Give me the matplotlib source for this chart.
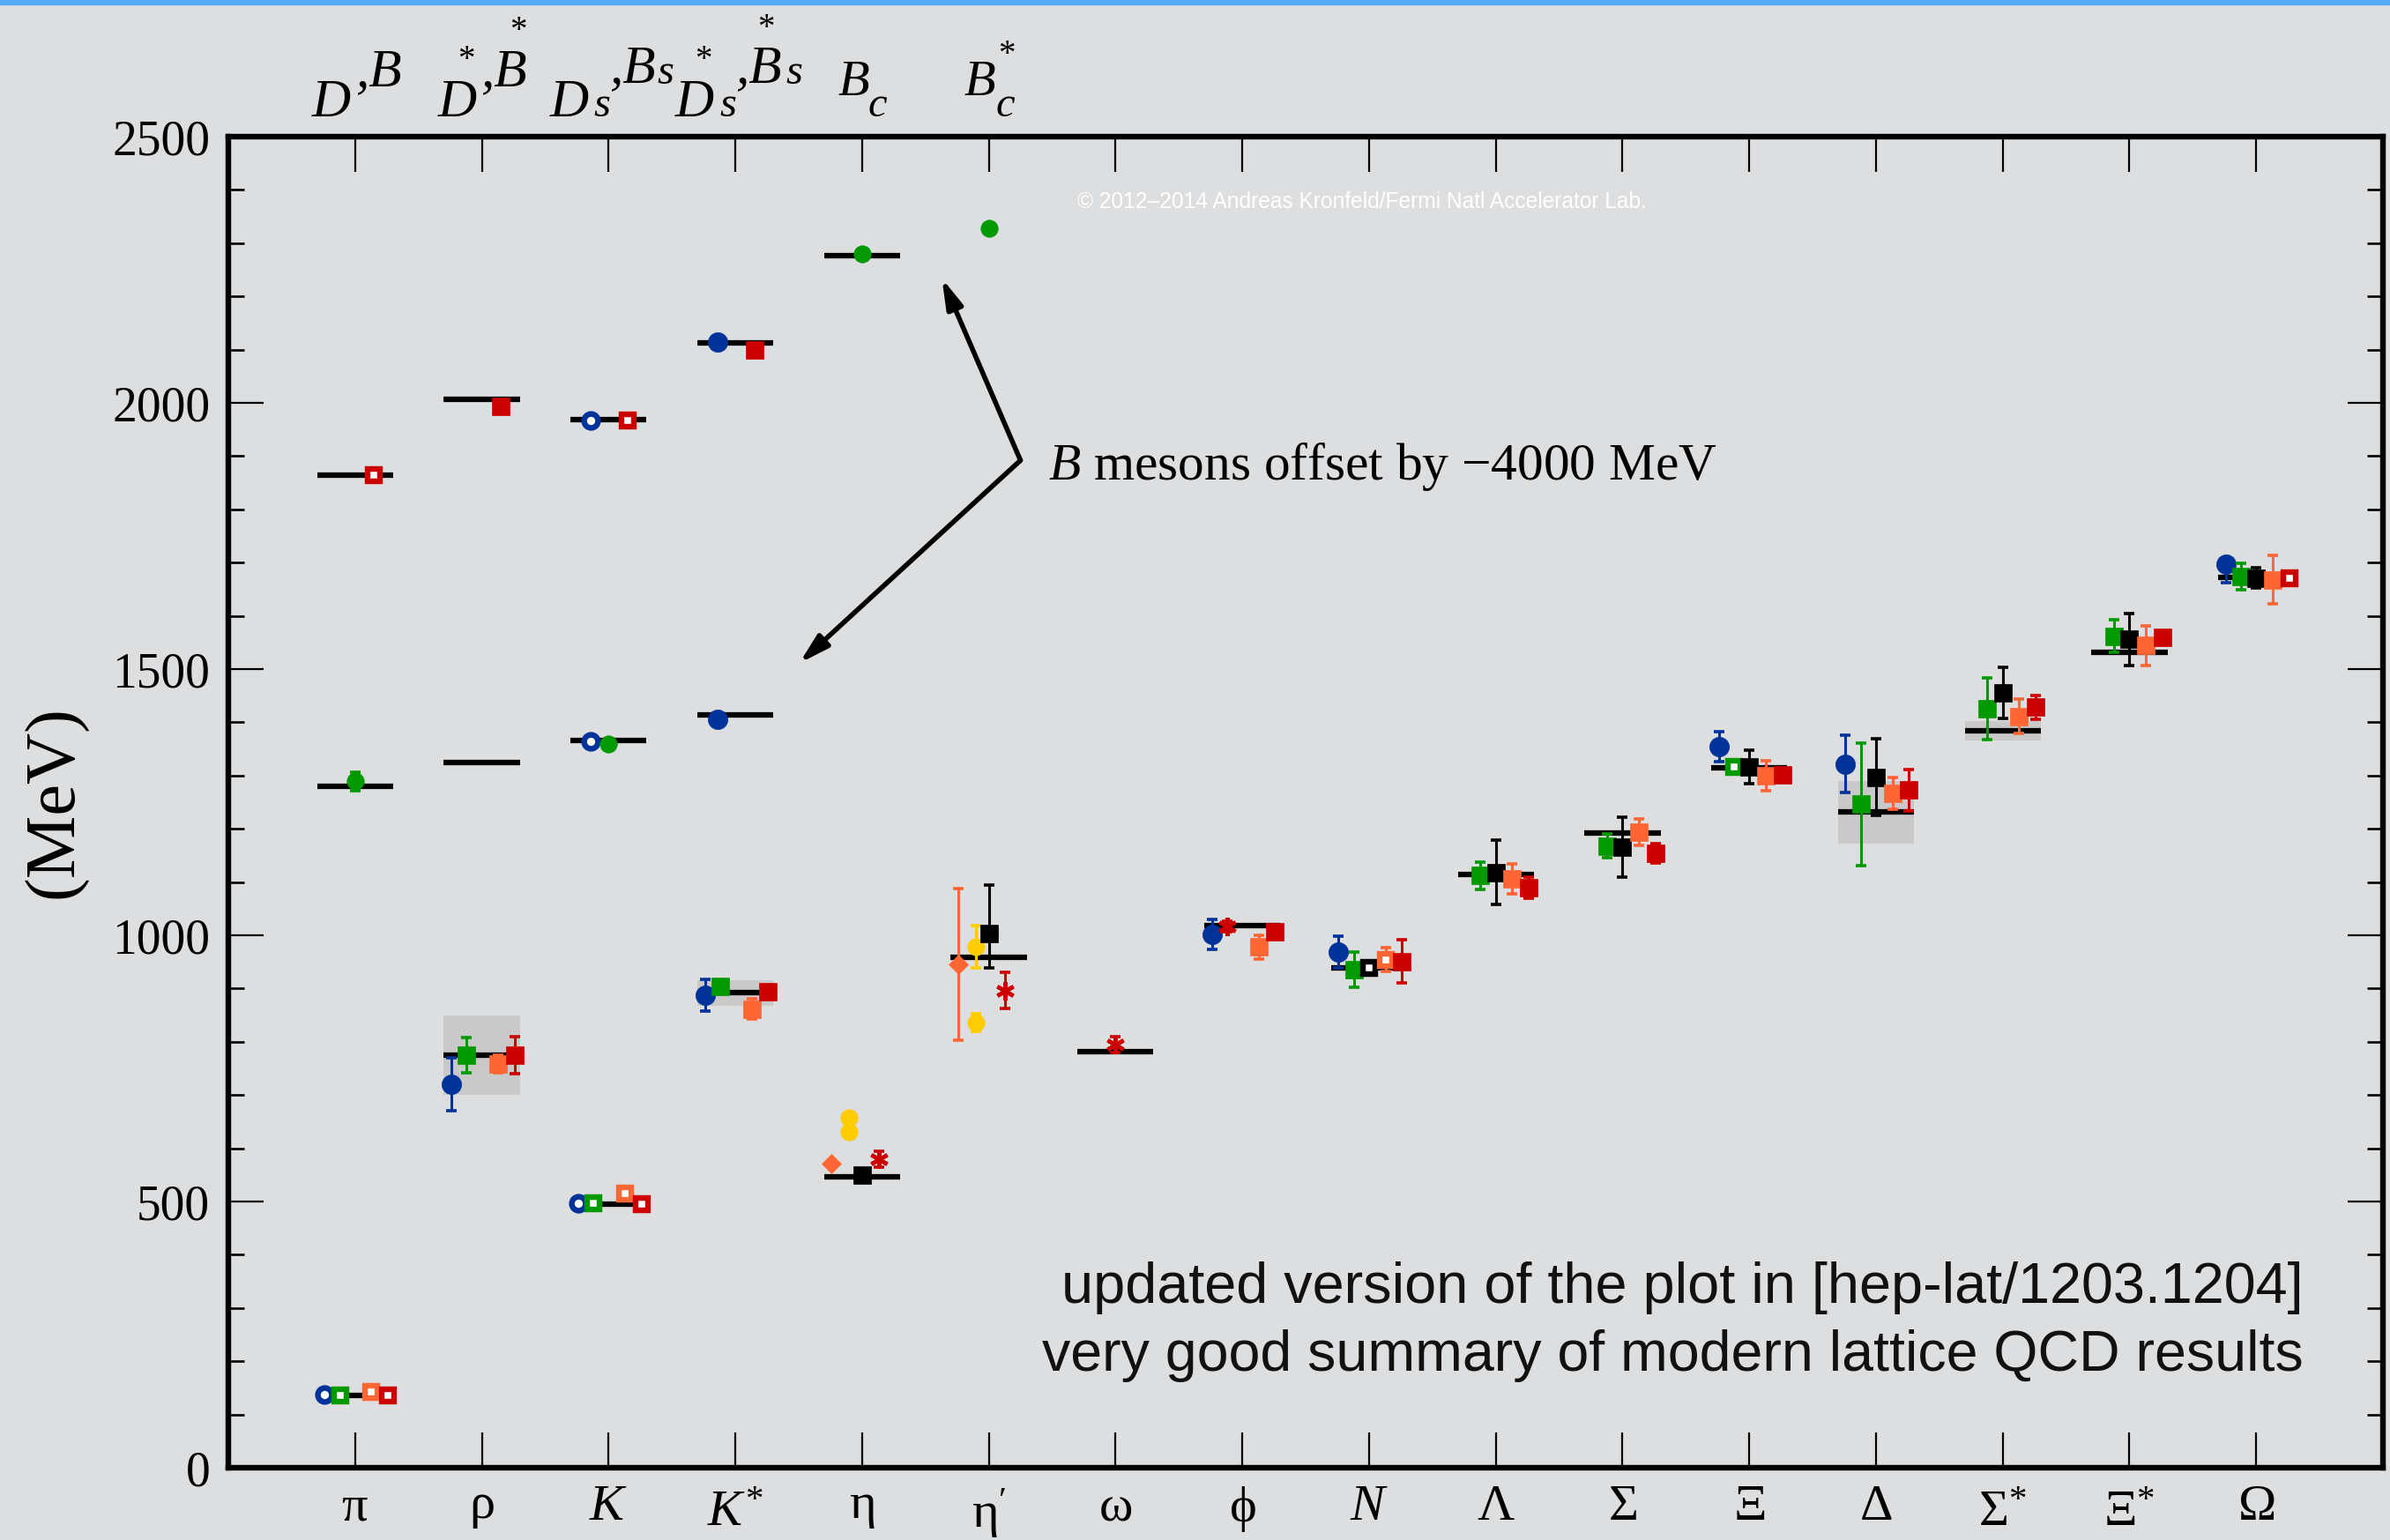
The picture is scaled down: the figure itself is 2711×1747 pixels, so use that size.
import numpy as np
import matplotlib
matplotlib.use("Agg")
import matplotlib.pyplot as plt
from matplotlib.patches import Rectangle
from matplotlib.ticker import MultipleLocator
from matplotlib.transforms import blended_transform_factory, ScaledTranslation

plt.rcParams["font.family"] = ["Liberation Serif", "DejaVu Serif"]
plt.rcParams["mathtext.fontset"] = "custom"
plt.rcParams["mathtext.rm"] = "Liberation Serif"
plt.rcParams["mathtext.it"] = "Liberation Serif:italic"
plt.rcParams["mathtext.bf"] = "Liberation Serif:bold"
plt.rcParams["mathtext.fallback"] = "stix"

W, H = 2711, 1747
BG = "#dddee0"
BLUE = "#003399"
GREEN = "#009900"
ORANGE = "#ff6633"
RED = "#cc0000"
YELLOW = "#ffcc00"
BAND = "#c9c9c9"
SANS = ["Liberation Sans Narrow", "Liberation Sans", "DejaVu Sans"]

# ---- data -------------------------------------------------------------
hadrons = [r"$\mathrm{\pi}$", r"$\mathrm{\rho}$", r"$K$", r"$K^{*}$", r"$\mathrm{\eta}$",
           r"$\mathrm{\eta}^{\prime}$", r"$\mathrm{\omega}$", r"$\mathrm{\phi}$", r"$N$",
           r"$\Lambda$", r"$\Sigma$", r"$\Xi$", r"$\Delta$", r"$\Sigma^{*}$", r"$\Xi^{*}$",
           r"$\Omega$"]

# experiment (MeV) and half-width of the grey bands
exp_mass = [135, 775, 495, 892, 547, 958, 782, 1019, 939, 1115, 1192, 1314, 1231, 1384, 1531, 1672]
exp_halfwidth = [0, 75, 0, 24, 0, 0, 0, 0, 0, 0, 0, 0, 59, 18, 5, 0]

# heavy-light mesons, experiment (B mesons shifted by -4000 MeV)
heavy_cat = [1, 1, 2, 2, 3, 3, 4, 4, 5]
heavy_mass = [1865, 1279, 2007, 1325, 1968, 1366, 2112, 1414, 2276]

# lattice results: category, mass, error (sym or (lo, hi)), open marker
blue_cat = [1, 2, 3, 4, 8, 9, 12, 13, 16]
blue_val = [138, 720, 497, 887, 1002, 968, 1354, 1322, 1697]
blue_err = [0, 50, 0, 30, 28, 30, 28, 54, (34, 8)]
blue_open = [1, 0, 1, 0, 0, 0, 0, 0, 0]

green_cat = [1, 2, 3, 4, 9, 10, 11, 12, 13, 14, 15, 16]
green_val = [136, 775, 496, 904, 935, 1112, 1168, 1316, 1246, 1425, 1562, 1674]
green_err = [0, 33, 0, 0, 33, 26, 23, 0, 115, 58, 30, 25]
green_open = [1, 0, 1, 0, 0, 0, 0, 1, 0, 0, 0, 0]

black_cat = [5, 6, 9, 10, 11, 12, 13, 14, 15, 16]
black_val = [549, 1004, 938, 1118, 1166, 1316, 1297, 1455, 1556, 1671]
black_err = [0, (66, 91), 0, 60, 56, 31, 72, 48, 49, 19]
black_open = [0, 0, 1, 0, 0, 0, 0, 0, 0, 0]

orange_cat = [1, 2, 3, 4, 8, 9, 10, 11, 12, 13, 14, 15, 16]
orange_val = [143, 758, 515, 861, 978, 954, 1106, 1194, 1299, 1267, 1411, 1544, 1668]
orange_err = [0, 17, 0, 19, 22, 22, 28, 25, 28, 30, 32, 37, 46]
orange_open = [1, 0, 1, 0, 0, 1, 0, 0, 0, 0, 0, 0, 0]

red_cat = [1, 2, 3, 4, 8, 9, 10, 11, 12, 13, 14, 15, 16]
red_val = [135, 775, 495, 894, 1006, 951, 1090, 1154, 1302, 1273, 1428, 1560, 1671]
red_err = [0, 35, 0, 0, 0, 41, 20, 18, 0, 39, 23, 0, 0]
red_open = [1, 0, 1, 0, 0, 0, 0, 0, 0, 0, 0, 0, 1]

star_cat = [5, 6, 7, 8]
star_val = [579, 896, 795, 1017]
star_err = [15, 34, 15, 10]
star_shift = [0.13, 0.13, 0.0, -0.12]

yellow_cat = [5, 5, 6, 6]
yellow_val = [657, 631, 978, 836]
yellow_err = [0, 0, 40, 17]

diamond_cat = [5, 6]
diamond_val = [572, 945]
diamond_err = [0, 142]

hblue_cat = [3, 3, 4, 4]
hblue_val = [1967, 1364, 2114, 1405]
hblue_open = [1, 1, 0, 0]

hgreen_cat = [1, 3, 5, 6]
hgreen_val = [1289, 1360, 2280, 2328]
hgreen_err = [18, 0, 0, 0]

hred_cat = [1, 2, 3, 4]
hred_val = [1865, 1993, 1967, 2100]
hred_open = [1, 0, 1, 0]

# ---- figure -----------------------------------------------------------
fig = plt.figure(figsize=(W / 100, H / 100), dpi=100, facecolor=BG)
ax = fig.add_axes([259 / W, 1 - 1665 / H, (2703 - 259) / W, (1665 - 155) / H])
ax.set_facecolor(BG)
fig.add_artist(Rectangle((0, 1 - 5 / H), 1, 5 / H, transform=fig.transFigure,
                         color="#55aaf8", zorder=10))


def draw_series(cats, vals, errs, hollow, offset, color, marker, size, z, mew_fill=0.5):
    x = np.asarray(cats, float) + offset
    y = np.asarray(vals, float)
    if errs is None:
        errs = [0] * len(vals)
    if hollow is None:
        hollow = [0] * len(vals)
    lo = np.array([e[0] if isinstance(e, tuple) else e for e in errs], float)
    hi = np.array([e[1] if isinstance(e, tuple) else e for e in errs], float)
    has = (lo + hi) > 0
    if has.any():
        ax.errorbar(x[has], y[has], yerr=[lo[has], hi[has]], fmt="none", ecolor=color,
                    elinewidth=2.2, capsize=4.5, capthick=2.6, zorder=z)
    op = np.asarray(hollow, bool)
    if (~op).any():
        ax.plot(x[~op], y[~op], ls="none", marker=marker, ms=size, mfc=color, mec=color,
                mew=mew_fill, zorder=z)
    if op.any():
        ax.plot(x[op], y[op], ls="none", marker=marker, ms=size - 4.6, mfc="white",
                mec=color, mew=4.6, zorder=z)


cats = np.arange(1, len(hadrons) + 1)

# grey resonance bands and experimental lines
hw = np.array(exp_halfwidth, float)
m = np.array(exp_mass, float)
sel = hw > 0
ax.bar(cats[sel], 2 * hw[sel], bottom=m[sel] - hw[sel], width=0.6, color=BAND, zorder=1)
ax.hlines(exp_mass, cats - 0.3, cats + 0.3, color="black", lw=4.5, zorder=2)
ax.hlines(heavy_mass, np.array(heavy_cat) - 0.3, np.array(heavy_cat) + 0.3,
          color="black", lw=4.5, zorder=2)

# lattice points
draw_series(diamond_cat, diamond_val, diamond_err, None, -0.24, ORANGE, "D", 11.5, 3)
draw_series(blue_cat, blue_val, blue_err, blue_open, -0.24, BLUE, "o", 16, 3)
draw_series(yellow_cat, yellow_val, yellow_err, None, -0.10, YELLOW, "o", 14, 4)
draw_series(green_cat, green_val, green_err, green_open, -0.12, GREEN, "s", 14.5, 4)
draw_series(black_cat, black_val, black_err, black_open, 0.0, "black", "s", 14.5, 5)
draw_series(orange_cat, orange_val, orange_err, orange_open, 0.13, ORANGE, "s", 14.5, 6)
draw_series(red_cat, red_val, red_err, red_open, 0.26, RED, "s", 14.5, 7)
for c, v, e, s in zip(star_cat, star_val, star_err, star_shift):
    draw_series([c], [v], [e], None, s, RED, (6, 2, 0), 15, 7, mew_fill=3.2)

draw_series(hblue_cat, hblue_val, None, hblue_open, -0.14, BLUE, "o", 16, 3)
draw_series(hgreen_cat, hgreen_val, hgreen_err, None, 0.0, GREEN, "o", 14, 4)
draw_series(hred_cat, hred_val, None, hred_open, 0.15, RED, "s", 14.5, 7)

# axes
ax.set_xlim(0, 17)
ax.set_ylim(0, 2500)
ax.set_xticks(cats)
ax.set_xticklabels(hadrons, fontsize=42)
ax.set_yticks(np.arange(0, 2501, 500))
ax.yaxis.set_minor_locator(MultipleLocator(100))
ax.tick_params(axis="both", which="both", direction="in", top=True, right=True)
ax.tick_params(axis="both", which="major", length=29, width=1.6)
ax.tick_params(axis="y", which="minor", length=13, width=1.9)
ax.tick_params(axis="x", pad=14)
ax.tick_params(axis="y", pad=15, labelsize=40)
for sp in ax.spines.values():
    sp.set_linewidth(4.6)
ax.set_ylabel("(MeV)", fontsize=58, va="center")
ax.yaxis.set_label_coords(-0.0802, 0.5)

# labels carrying a superscript sit a little lower, as in the original
drop_px = {3: 7, 5: 2, 13: 7, 14: 7}
for i, lab in enumerate(ax.get_xticklabels()):
    if i in drop_px:
        lab.set_transform(lab.get_transform() +
                          ScaledTranslation(0, -drop_px[i] / 100, fig.dpi_scale_trans))

# heavy meson labels above the frame
tr = blended_transform_factory(ax.transData, fig.transFigure)
top_pieces = [
    (1, "D", -0.19, 132, 44), (1, ",B", 0.19, 97, 44),
    (2, "D", -0.195, 132, 44), (2, "*", -0.125, 78, 28), (2, ",B", 0.18, 97, 44),
    (2, "*", 0.285, 45, 28),
    (3, "D", -0.31, 132, 44), (3, "s", -0.05, 132, 35), (3, ",B", 0.195, 93, 44),
    (3, "s", 0.45, 95, 35),
    (4, "D", -0.32, 132, 44), (4, "*", -0.255, 78, 28), (4, "s", -0.06, 132, 35),
    (4, ",B", 0.19, 93, 44), (4, "*", 0.245, 42, 28), (4, "s", 0.465, 95, 35),
    (5, "B", -0.065, 108, 42), (5, "c", 0.125, 132, 35),
    (6, "B", -0.07, 108, 42), (6, "*", 0.14, 72, 28), (6, "c", 0.13, 132, 35),
]
for tick, txt, dx, base, size in top_pieces:
    ax.text(tick + dx, 1 - base / H, txt, transform=tr, ha="center", va="baseline",
            fontsize=size, style="normal" if txt == "*" else "italic", clip_on=False)

# annotations
origin = (6.25, 1892)
for tip in [(5.63, 2234), (4.505, 1511)]:
    ax.annotate("", xy=tip, xytext=origin,
                arrowprops=dict(arrowstyle="-|>,head_length=1.0,head_width=0.28",
                                color="black", lw=4, mutation_scale=20,
                                shrinkA=0, shrinkB=0))

renderer = fig.canvas.get_renderer()


def fit_width(t, target):
    w = t.get_window_extent(renderer).width
    t.set_fontsize(t.get_fontsize() * target / w)


t = ax.text(6.472, 1856, r"$B$ mesons offset by −4000 MeV", fontsize=42, va="baseline")
fit_width(t, 759)
t = ax.text(6.695, 2366, "© 2012–2014 Andreas Kronfeld/Fermi Natl Accelerator Lab.",
            color="white", family=SANS, fontsize=16, va="baseline")
fit_width(t, 649)
t = ax.text(16.374, 309, "updated version of the plot in [hep-lat/1203.1204]",
            ha="right", va="baseline", family=SANS, fontsize=44, color="#111111")
fit_width(t, 1410)
t = ax.text(16.374, 182, "very good summary of modern lattice QCD results",
            ha="right", va="baseline", family=SANS, fontsize=44, color="#111111")
fit_width(t, 1432)

fig.savefig("out.png", dpi=100, facecolor=BG)
